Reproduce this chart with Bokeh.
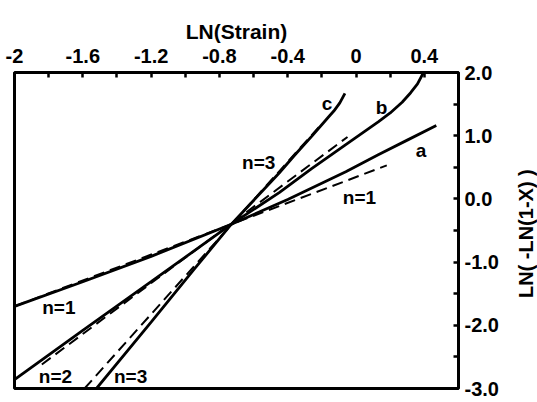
from bokeh.plotting import figure
from bokeh.layouts import row
from bokeh.models import FixedTicker, Label, ColumnDataSource, Title
from bokeh.core.properties import value
from bokeh.embed import file_html
from bokeh.resources import INLINE

# ---- data ----
a_x = [-2.0, -1.6, -1.2, -0.73, -0.4, -0.06, 0.13, 0.3, 0.47]
a_y = [-1.70, -1.31, -0.91, -0.40, -0.01, 0.43, 0.70, 0.93, 1.16]

b_x = [-2.0, -1.6, -1.2, -0.73, -0.45, -0.26, -0.06, 0.13, 0.20, 0.27, 0.32, 0.36, 0.395]
b_y = [-2.86, -2.08, -1.31, -0.40, 0.10, 0.48, 0.86, 1.22, 1.36, 1.53, 1.68, 1.82, 2.0]

c_x = [-1.52, -1.2, -0.95, -0.73, -0.55, -0.45, -0.36, -0.26, -0.16, -0.13, -0.095, -0.065]
c_y = [-3.0, -1.95, -1.12, -0.40, 0.12, 0.41, 0.69, 0.99, 1.30, 1.39, 1.52, 1.67]

n1_x = [-2.0, 0.18]
n1_y = [-1.70, 0.53]
n2_x = [-1.84, -0.05]
n2_y = [-2.62, 0.98]
n3_x = [-1.59, -0.20]
n3_y = [-3.0, 1.19]

lab_x = [-1.74, -1.76, -1.32, -0.57, 0.02, 0.38, 0.15, -0.17]
lab_y = [-1.72, -2.81, -2.81, 0.58, 0.03, 0.77, 1.45, 1.51]
lab_t = ["n=1", "n=2", "n=3", "n=3", "n=1", "a", "b", "c"]

x_ticks = [-2.0, -1.6, -1.2, -0.8, -0.4, 0.0, 0.4]
x_tick_labels = ["-2", "-1.6", "-1.2", "-0.8", "-0.4", "0", "0.4"]
x_minor = [-1.8, -1.4, -1.0, -0.6, -0.2, 0.2, 0.6]
y_ticks = [2, 1, 0, -1, -2, -3]
y_tick_labels = ["2.0", "1.0", "0.0", "-1.0", "-2.0", "-3.0"]
y_minor = [1.5, 0.5, -0.5, -1.5, -2.5]

x_title = "LN(Strain)"
y_title = "LN( -LN(1-X) )"

FONT = "Liberation Sans"
H = 400

p = figure(width=510, height=H, x_range=(-2.0, 0.6), y_range=(-3.0, 2.0),
           x_axis_location="above", y_axis_location="right",
           output_backend="svg", toolbar_location=None,
           min_border_left=14, min_border_right=52, min_border_top=72,
           min_border_bottom=12)
p.grid.visible = False
p.outline_line_color = "black"
p.outline_line_width = 3
p.background_fill_color = "white"
p.border_fill_color = "white"

for ax in (p.xaxis[0], p.yaxis[0]):
    ax.axis_line_color = None
    ax.major_tick_in = 5
    ax.major_tick_out = 0
    ax.minor_tick_in = 5
    ax.minor_tick_out = 0
    ax.major_tick_line_width = 2.5
    ax.minor_tick_line_width = 2.5
    ax.major_tick_line_color = "black"
    ax.minor_tick_line_color = "black"
    ax.major_label_text_font = FONT
    ax.major_label_text_font_style = "bold"
    ax.major_label_text_font_size = "20px"
    ax.major_label_text_color = "black"

xa = p.xaxis[0]
xa.ticker = FixedTicker(ticks=x_ticks, minor_ticks=x_minor)
xa.major_label_overrides = {t: s for t, s in zip(x_ticks, x_tick_labels)}
xa.major_label_standoff = 10

ya = p.yaxis[0]
ya.ticker = FixedTicker(ticks=y_ticks, minor_ticks=y_minor)
ya.major_label_overrides = {t: s for t, s in zip(y_ticks, y_tick_labels)}
ya.major_label_standoff = 6

p.add_layout(Title(text=x_title, text_font=FONT, text_font_style="bold",
                   text_font_size="21px", text_color="black",
                   align="center", offset=24, standoff=6), "above")

lw = 2.8
p.line(a_x, a_y, line_color="black", line_width=lw)
p.line(b_x, b_y, line_color="black", line_width=lw)
p.line(c_x, c_y, line_color="black", line_width=lw)
for xs, ys in ((n1_x, n1_y), (n2_x, n2_y), (n3_x, n3_y)):
    p.line(xs, ys, line_color="black", line_width=2, line_dash="11 6")

src = ColumnDataSource(data=dict(x=lab_x, y=lab_y, t=lab_t))
p.text(x="x", y="y", text="t", source=src, text_font=value(FONT),
       text_font_style="bold", text_font_size="19px", text_color="black",
       text_align="center", text_baseline="middle")

# narrow side panel carrying the rotated right-hand axis title
side = figure(width=27, height=H, x_range=(0, 1), y_range=(-3.0, 2.0),
              x_axis_location=None, y_axis_location=None,
              output_backend="svg", toolbar_location=None,
              min_border=0, min_border_left=0, min_border_right=0,
              min_border_top=0, min_border_bottom=0)
side.grid.visible = False
side.outline_line_color = None
side.background_fill_color = "white"
side.border_fill_color = "white"
side.add_layout(Label(x=0.59, y=-0.55, text=y_title, text_font=FONT,
                      text_font_style="bold", text_font_size="20px",
                      text_color="black", angle=90,
                      angle_units="deg", text_align="center",
                      text_baseline="middle"))

layout = row(p, side)
open("out.html", "w").write(file_html(layout, INLINE))
